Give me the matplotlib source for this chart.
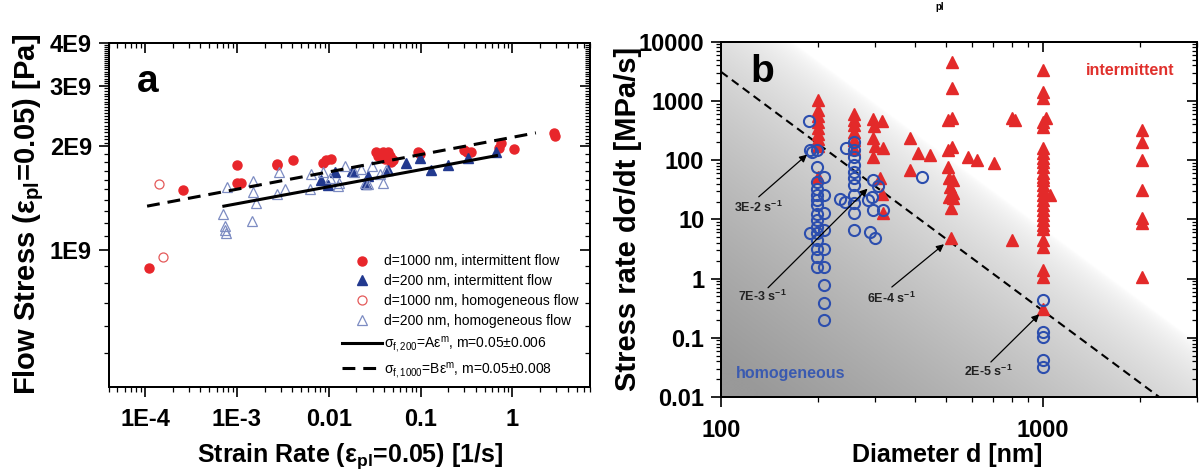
import numpy as np
import matplotlib
matplotlib.use("Agg")
import matplotlib.pyplot as plt
from matplotlib.lines import Line2D
from matplotlib.ticker import FixedLocator, NullFormatter, LogLocator

plt.rcParams['font.family'] = ['Liberation Sans', 'DejaVu Sans']
plt.rcParams['mathtext.fontset'] = 'custom'
plt.rcParams['mathtext.rm'] = 'Liberation Sans'
plt.rcParams['mathtext.it'] = 'Liberation Sans:italic'
plt.rcParams['mathtext.bf'] = 'Liberation Sans:bold'

# ---------------- panel a: flow stress vs strain rate ----------------
rate_1000_int = [1.09e-4, 2.61e-4, 9.9e-4, 1.0e-3, 1.1e-3, 2.7e-3, 2.75e-3, 4.1e-3,
                 8.55e-3, 9.4e-3, 1.05e-2,
                 0.0324, 0.0344, 0.0389, 0.0424, 0.0469, 0.050, 0.0481, 0.0406, 0.0441,
                 0.0935, 0.099, 0.30, 0.318, 0.356, 0.72, 0.75, 1.03, 2.86, 2.91]
stress_1000_int = [8.88e8, 1.49e9, 1.77e9, 1.57e9, 1.57e9, 1.78e9, 1.76e9, 1.82e9,
                   1.79e9, 1.82e9, 1.84e9,
                   1.92e9, 1.87e9, 1.92e9, 1.88e9, 1.87e9, 1.83e9, 1.80e9, 1.84e9, 1.93e9,
                   1.92e9, 1.90e9, 1.95e9, 1.92e9, 1.93e9, 1.98e9, 2.04e9, 1.97e9, 2.19e9, 2.14e9]

rate_200_int = [8.3e-3, 9.8e-3, 0.0118, 0.0177, 0.0257, 0.027, 0.044, 0.0687,
                0.099, 0.13, 0.198, 0.327, 0.665]
stress_200_int = [1.60e9, 1.54e9, 1.69e9, 1.70e9, 1.55e9, 1.64e9, 1.71e9, 1.79e9,
                  1.85e9, 1.71e9, 1.76e9, 1.85e9, 1.93e9]

rate_1000_hom = [1.4e-4, 1.58e-4]
stress_1000_hom = [1.55e9, 9.5e8]

rate_200_hom = [7.1e-4, 7.4e-4, 7.5e-4, 7.6e-4, 7.7e-4,
                1.45e-3, 1.5e-3, 1.5e-3, 1.63e-3,
                2.7e-3, 2.9e-3, 3.3e-3, 6.2e-3, 6.4e-3,
                8.7e-3, 1.02e-2, 1.25e-2, 1.3e-2,
                0.0149, 0.0187, 0.0227, 0.0246, 0.0267, 0.0299, 0.0389, 0.0358, 0.0424]
stress_200_hom = [1.27e9, 1.17e9, 1.14e9, 1.12e9, 1.52e9,
                  1.21e9, 1.59e9, 1.47e9, 1.37e9,
                  1.45e9, 1.68e9, 1.50e9, 1.50e9, 1.66e9,
                  1.68e9, 1.62e9, 1.53e9, 1.57e9,
                  1.75e9, 1.68e9, 1.72e9, 1.57e9, 1.55e9, 1.75e9, 1.57e9, 1.66e9, 1.71e9]

# power-law fits (straight lines on log-log axes), end points
fit200_rate = [7.2e-4, 0.67]
fit200_stress = [1.34e9, 1.88e9]
fit1000_rate = [1.05e-4, 1.8]
fit1000_stress = [1.34e9, 2.19e9]

a_xticks = [1e-4, 1e-3, 1e-2, 1e-1, 1]
a_xticklabels = ['1E-4', '1E-3', '0.01', '0.1', '1']
a_yticks = [1e9, 2e9, 3e9, 4e9]
a_yticklabels = ['1E9', '2E9', '3E9', '4E9']

# ---------------- panel b: stress rate vs diameter ----------------
d_int = ([200] * 9 + [258] * 6 +
         [296, 298, 316, 297, 301, 297, 319, 312, 316, 319] +
         [387, 387, 410, 446] +
         [520, 520, 506, 520, 506, 520, 506, 510, 523, 515, 523, 510, 523, 518, 518] +
         [586, 622, 702, 800, 818, 800] +
         [1000, 1000, 1000, 1017, 1000, 1000, 1000, 1000, 1000, 1000, 1000, 1000, 1000,
          1000, 1000, 1000, 1000, 1052, 1000, 1000, 1000, 1000, 1000, 1000, 1000, 1000,
          1000, 1000, 1000, 1000] +
         [2020] * 7)
rate_int = ([1030, 700, 560, 440, 350, 280, 225, 170, 52] +
            [600, 470, 390, 300, 215, 155] +
            [500, 380, 450, 240, 170, 115, 160, 49, 27, 13] +
            [233, 68, 130, 122] +
            [4600, 1630, 476, 508, 150, 168, 77, 49, 46, 35.6, 27.5, 24, 22.6, 15.4, 4.8] +
            [114, 100, 88, 508, 476, 4.5] +
            [3325, 1430, 1106, 508, 446, 367, 158, 130, 107, 94, 77, 60, 52.5,
             46, 38, 31, 25.7, 25.7, 21, 17.5, 14.4, 11.8, 9.75, 8.0, 7.0, 4.5,
             3.4, 1.39, 1.07, 0.31] +
            [322, 205, 100, 31, 10.4, 8.6, 1.07])

d_hom = ([187, 189, 191, 189] +
         [198] * 15 +
         [209] * 9 +
         [258, 245, 258, 258, 258, 258, 258, 258, 258, 258, 258, 258, 234, 243] +
         [297, 308, 286, 294, 297, 319, 290, 301] +
         [420] +
         [1000] * 5)
rate_hom = ([460, 147, 139, 5.8] +
            [147, 77, 43, 33, 25.6, 21, 17.3, 12.5, 9.7, 7.5, 5.8, 4.4, 3.2, 2.3, 1.57] +
            [52, 25.7, 12.6, 6.6, 3.2, 1.58, 0.78, 0.39, 0.20] +
            [205, 160, 148, 114, 83, 64, 49, 38, 25.7, 18.6, 12.6, 6.6, 21.8, 19.8] +
            [46, 36, 21, 24, 14.4, 14.4, 6.2, 4.8] +
            [52.5] +
            [0.43, 0.126, 0.104, 0.042, 0.032])

# boundary between regimes
bound_d = [100, 2290]
bound_rate = [3100, 0.01]

# strain-rate annotations: label, text position, arrow tail, arrow head
ann_labels = ['3E-2 s$^{\\mathbf{-1}}$', '7E-3 s$^{\\mathbf{-1}}$',
              '6E-4 s$^{\\mathbf{-1}}$', '2E-5 s$^{\\mathbf{-1}}$']
ann_text_xy = [(131, 16.0), (134, 0.50), (338, 0.46), (677, 0.027)]
ann_tail_xy = [(131, 24), (140, 0.70), (339, 0.72), (688, 0.039)]
ann_head_xy = [(185, 124), (285, 33), (492, 3.8), (972, 0.25)]

b_xticks = [100, 1000]
b_xticklabels = ['100', '1000']
b_yticks = [0.01, 0.1, 1, 10, 100, 1000, 10000]
b_yticklabels = ['0.01', '0.1', '1', '10', '100', '1000', '10000']

RED = '#e8262b'
NAVY = '#22398f'
RED_LIGHT = '#e45a5a'
BLUE_LIGHT = '#7d8cc2'
B_RED = '#e32a2a'
B_BLUE = '#2c4eae'

TICK_FS = 17
LABEL_FS = 18
YLABEL_FS = 21


def style_frame(ax, xmajor, xlabels, xminor, ymajor, ylabels, yminor, xpad, ypad):
    for sp in ax.spines.values():
        sp.set_linewidth(1.4)
    ax.set_xticks(xmajor, xlabels, fontsize=TICK_FS, fontweight='bold')
    ax.set_yticks(ymajor, ylabels, fontsize=TICK_FS, fontweight='bold')
    ax.xaxis.set_minor_locator(xminor)
    ax.yaxis.set_minor_locator(yminor)
    ax.xaxis.set_minor_formatter(NullFormatter())
    ax.yaxis.set_minor_formatter(NullFormatter())
    ax.tick_params(which='major', direction='out', length=7, width=1.2)
    ax.tick_params(which='minor', direction='out', length=3.5, width=0.9)
    ax.tick_params(axis='x', pad=xpad)
    ax.tick_params(axis='y', pad=ypad)
    ax.tick_params(top=False, right=False)


def mirror_ticks(ax, xmajor, xminor, ymajor, yminor):
    top = ax.twiny()
    top.set_xscale('log')
    top.set_xlim(ax.get_xlim())
    top.xaxis.set_major_locator(FixedLocator(xmajor))
    top.xaxis.set_minor_locator(xminor)
    top.tick_params(axis='x', which='major', direction='in', length=7, width=1.2,
                    labeltop=False, labelbottom=False, top=True, bottom=False)
    top.tick_params(axis='x', which='minor', direction='in', length=3.5, width=0.9,
                    top=True, bottom=False)
    top.xaxis.set_minor_formatter(NullFormatter())
    right = ax.twinx()
    right.set_yscale('log')
    right.set_ylim(ax.get_ylim())
    right.yaxis.set_major_locator(FixedLocator(ymajor))
    right.yaxis.set_minor_locator(yminor)
    right.tick_params(axis='y', which='major', direction='in', length=7, width=1.2,
                      labelright=False, labelleft=False, right=True, left=False)
    right.tick_params(axis='y', which='minor', direction='in', length=3.5, width=0.9,
                      right=True, left=False)
    right.yaxis.set_minor_formatter(NullFormatter())
    for tw in (top, right):
        for sp in tw.spines.values():
            sp.set_linewidth(1.4)
        tw.set_zorder(ax.get_zorder() + 1)


fig = plt.figure(figsize=(12, 4.71), dpi=100)

# ---------------- panel a ----------------
ax_a = fig.add_axes([0.0905, 0.1794, 0.4012, 0.7293])
ax_a.set_xscale('log')
ax_a.set_yscale('log')
ax_a.set_xlim(4e-5, 7)
ax_a.set_ylim(4e8, 4e9)

ax_a.plot(rate_1000_int, stress_1000_int, ls='none', marker='o', ms=6.5,
          color=RED, mec=RED, zorder=3)
ax_a.plot(rate_200_int, stress_200_int, ls='none', marker='^', ms=7,
          color=NAVY, mec=NAVY, zorder=3)
ax_a.plot(rate_1000_hom, stress_1000_hom, ls='none', marker='o', ms=6.5,
          mfc='none', mec=RED_LIGHT, mew=0.9, zorder=3)
ax_a.plot(rate_200_hom, stress_200_hom, ls='none', marker='^', ms=7.5,
          mfc='none', mec=BLUE_LIGHT, mew=0.9, zorder=3)
ax_a.plot(fit200_rate, fit200_stress, color='black', lw=2.2, zorder=4)
ax_a.plot(fit1000_rate, fit1000_stress, color='black', lw=2.2,
          ls=(0, (4.2, 2.6)), zorder=4)

a_yminor = [v * 1e8 for v in range(5, 20) if v != 10] + \
           [v * 5e7 for v in range(41, 80) if v not in (60,)]
style_frame(ax_a, a_xticks, a_xticklabels, LogLocator(base=10, subs=np.arange(2, 10)),
            a_yticks, a_yticklabels, FixedLocator(a_yminor), xpad=8.5, ypad=5)
mirror_ticks(ax_a, a_xticks, LogLocator(base=10, subs=np.arange(2, 10)),
             a_yticks, FixedLocator(a_yminor))

ax_a.set_xlabel('Strain Rate (ε$_{\\mathbf{pl}}$=0.05) [1/s]', fontsize=LABEL_FS,
                fontweight='bold')
ax_a.set_ylabel('Flow Stress (ε$_{\\mathbf{pl}}$=0.05) [Pa]', fontsize=YLABEL_FS,
                fontweight='bold')
ax_a.xaxis.set_label_coords(0.501, -0.159)
ax_a.yaxis.set_label_coords(-0.130, 0.5)
ax_a.text(0.082, 0.857, 'a', transform=ax_a.transAxes, fontsize=28,
          fontweight='bold', ha='center', va='baseline')

handles = [
    Line2D([], [], ls='none', marker='o', ms=6.5, color=RED, mec=RED),
    Line2D([], [], ls='none', marker='^', ms=7, color=NAVY, mec=NAVY),
    Line2D([], [], ls='none', marker='o', ms=6.5, mfc='none', mec=RED_LIGHT, mew=0.9),
    Line2D([], [], ls='none', marker='^', ms=7.5, mfc='none', mec=BLUE_LIGHT, mew=0.9),
    Line2D([], [], color='black', lw=2.2),
    Line2D([], [], color='black', lw=2.2, ls=(0, (4.2, 2.6))),
]
labels = [
    'd=1000 nm, intermittent flow',
    'd=200 nm, intermittent flow',
    'd=1000 nm, homogeneous flow',
    'd=200 nm, homogeneous flow',
    'σ$_{\\mathrm{f,200}}$=Aε$^{\\mathrm{m}}$, m=0.05±0.006',
    'σ$_{\\mathrm{f,1000}}$=Bε$^{\\mathrm{m}}$, m=0.05±0.008',
]
ax_a.legend(handles, labels, loc='lower left', bbox_to_anchor=(0.484, 0.02),
            frameon=False, fontsize=10, handlelength=2.9, handletextpad=0.15,
            labelspacing=0.42, borderpad=0, borderaxespad=0)

# ---------------- panel b ----------------
pos_b = [0.6008, 0.1571, 0.3967, 0.7544]
ax_bg = fig.add_axes(pos_b, zorder=0)
H, W = 355, 476
yy, xx = np.mgrid[0:H, 0:W]
dist = (xx - 70.0) * (-0.596) + yy * 0.803
shade = 1.0 - 0.40 * np.clip(dist / 300.0, 0, 1) ** 0.6
ax_bg.imshow(np.dstack([shade, shade, shade]), extent=(0, 1, 0, 1), aspect='auto',
             origin='upper', interpolation='bilinear')
ax_bg.set_axis_off()

ax_b = fig.add_axes(pos_b, zorder=1)
ax_b.patch.set_alpha(0)
ax_b.set_xscale('log')
ax_b.set_yscale('log')
ax_b.set_xlim(100, 3000)
ax_b.set_ylim(0.01, 10000)

ax_b.plot(bound_d, bound_rate, color='black', lw=1.5, ls=(0, (4, 2.5)), zorder=2)
ax_b.plot(d_int, rate_int, ls='none', marker='^', ms=8.5, color=B_RED, mec=B_RED,
          zorder=3)
ax_b.plot(d_hom, rate_hom, ls='none', marker='o', ms=8, mfc='none', mec=B_BLUE,
          mew=1.5, zorder=4)

for lab, txy, tail, head in zip(ann_labels, ann_text_xy, ann_tail_xy, ann_head_xy):
    ax_b.annotate('', xy=head, xytext=tail,
                  arrowprops=dict(arrowstyle='-|>', color='black', lw=0.9,
                                  mutation_scale=11, shrinkA=0, shrinkB=0),
                  zorder=5)
    ax_b.text(txy[0], txy[1], lab, fontsize=9, fontweight='bold', ha='center',
              va='center', color='#222222', zorder=5)

ax_b.text(1860, 3300, 'intermittent', fontsize=11.5, fontweight='bold',
          color='#e0302c', ha='center', va='center')
ax_b.text(165, 0.025, 'homogeneous', fontsize=11.5, fontweight='bold',
          color='#3a5ab0', ha='center', va='center')

style_frame(ax_b, b_xticks, b_xticklabels, LogLocator(base=10, subs=np.arange(2, 10)),
            b_yticks, b_yticklabels, LogLocator(base=10, subs=np.arange(2, 10), numticks=20),
            xpad=8.5, ypad=5)
mirror_ticks(ax_b, b_xticks, LogLocator(base=10, subs=np.arange(2, 10)),
             b_yticks, LogLocator(base=10, subs=np.arange(2, 10), numticks=20))

ax_b.set_xlabel('Diameter d [nm]', fontsize=LABEL_FS, fontweight='bold')
ax_b.set_ylabel('Stress rate dσ/dt [MPa/s]', fontsize=YLABEL_FS, fontweight='bold')
ax_b.xaxis.set_label_coords(0.475, -0.129)
ax_b.yaxis.set_label_coords(-0.166, 0.5)
ax_b.text(0.086, 0.887, 'b', transform=ax_b.transAxes, fontsize=28,
          fontweight='bold', ha='center', va='baseline')

fig.text(0.783, 0.995, 'pl', fontsize=7, fontweight='bold', ha='center', va='top')

fig.savefig('out.png', dpi=100)
